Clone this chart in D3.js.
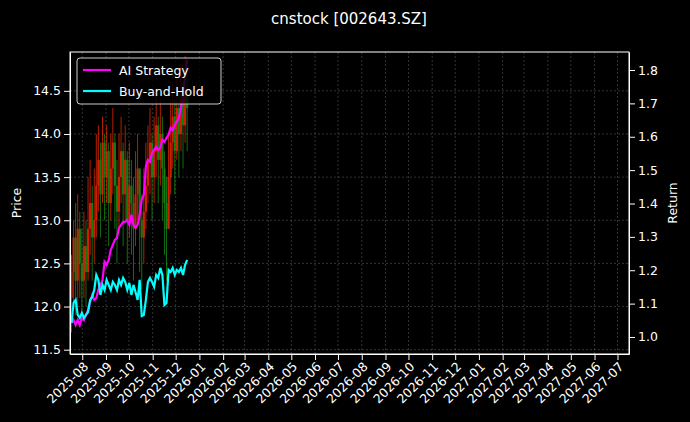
<!DOCTYPE html>
<html><head><meta charset="utf-8">
<script src="https://cdn.jsdelivr.net/npm/d3@7"></script>
<style>body{margin:0;background:#000}svg{display:block;font-family:"DejaVu Sans",sans-serif}</style>
</head><body><svg id="c" width="690" height="422"></svg>
<script>
const title = "cnstock [002643.SZ]";
const xTickLabels = ["2025-08","2025-09","2025-10","2025-11","2025-12","2026-01","2026-02","2026-03","2026-04","2026-05","2026-06","2026-07","2026-08","2026-09","2026-10","2026-11","2026-12","2027-01","2027-02","2027-03","2027-04","2027-05","2027-06","2027-07"];
const priceTicks = [11.5,12.0,12.5,13.0,13.5,14.0,14.5];
const returnTicks = [1.0,1.1,1.2,1.3,1.4,1.5,1.6,1.7,1.8];
const opens  = [12.1,12.4,12.8,12.3,12.9,12.5,12.3,12.7,12.4,12.9,13.2,12.8,13.0,13.4,13.7,13.3,13.9,13.5,13.8,13.2,13.6,13.9,13.4,13.1,13.5,13.8,13.3,13.7,13.0,13.4,13.2,12.9,13.3,13.6,13.0,12.8,13.1,13.4,13.7,13.9,13.5,13.8,14.1,13.7,14.0,13.6,13.2,12.9,13.5,13.9,14.2,13.8,14.3,14.0,14.4,14.1,14.5];
const closes = [12.4,12.8,12.3,12.9,12.5,12.3,12.7,12.4,12.9,13.2,12.8,13.0,13.4,13.7,13.3,13.9,13.5,13.8,13.2,13.6,13.9,13.4,13.1,13.5,13.8,13.3,13.7,13.0,13.4,13.2,12.9,13.3,13.6,13.0,12.8,13.1,13.4,13.7,13.9,13.5,13.8,14.1,13.7,14.0,13.6,13.2,12.9,13.5,13.9,14.2,13.8,14.3,14.0,14.4,14.1,14.5,14.3];
const highs  = [12.6,13.0,13.2,13.3,13.1,12.9,13.1,13.0,13.5,13.7,13.4,13.6,14.0,14.1,13.9,14.2,14.0,14.1,13.9,14.0,14.3,14.0,13.7,14.0,14.2,13.9,14.1,13.8,13.9,13.7,13.5,13.8,14.0,13.6,13.3,13.6,13.9,14.1,14.3,14.0,14.2,14.5,14.2,14.4,14.2,13.8,13.5,14.0,14.4,14.6,14.4,14.7,14.5,14.8,14.6,14.9,14.7];
const lows   = [11.7,12.0,11.9,12.0,12.1,11.9,12.1,12.0,12.3,12.6,12.3,12.5,12.8,13.1,12.8,13.2,13.0,13.2,12.7,13.0,13.3,12.9,12.5,12.9,13.2,12.7,13.0,12.5,12.8,12.6,12.3,12.7,13.0,12.4,12.2,12.5,12.9,13.2,13.3,13.0,13.2,13.5,13.2,13.4,13.0,12.6,12.3,12.9,13.3,13.6,13.3,13.7,13.5,13.8,13.6,13.9,13.8];
const aiStrategy = [1.042,1.051,1.036,1.051,1.036,1.057,1.051,1.066,1.081,1.105,1.126,1.111,1.117,1.141,1.156,1.171,1.225,1.216,1.231,1.261,1.276,1.291,1.297,1.327,1.336,1.345,1.345,1.351,1.336,1.366,1.336,1.327,1.336,1.366,1.411,1.426,1.510,1.531,1.525,1.552,1.561,1.570,1.561,1.567,1.591,1.585,1.597,1.606,1.627,1.621,1.636,1.645,1.657,1.687,1.726,1.786,1.831];
const buyHold = [1.042,1.102,1.111,1.066,1.057,1.072,1.057,1.066,1.075,1.111,1.120,1.141,1.186,1.171,1.126,1.156,1.141,1.171,1.156,1.141,1.165,1.156,1.141,1.171,1.156,1.177,1.165,1.141,1.162,1.126,1.156,1.135,1.111,1.171,1.063,1.066,1.111,1.165,1.177,1.165,1.150,1.186,1.177,1.207,1.186,1.096,1.102,1.201,1.195,1.207,1.186,1.201,1.195,1.207,1.186,1.216,1.231];

// sample dates: roughly every 2.7 calendar days from 2025-07-18 to 2025-12-16
const dates = [];
{ const start = new Date(2025,6,18), end = new Date(2025,11,16);
  const span = (end - start);
  for (let i = 0; i < closes.length; i++) dates.push(new Date(+start + span * i / (closes.length - 1))); }

const svg = d3.select("#c");
const m = {l:70, r:629, t:52, b:354};
const x = d3.scaleTime().domain([new Date(2025,6,16), new Date(2027,6,16)]).range([m.l, m.r]);
const yP = d3.scaleLinear().domain([11.45, 14.95]).range([m.b, m.t]);
const yR = d3.scaleLinear().domain([0.949, 1.854]).range([m.b, m.t]);
const tickDates = xTickLabels.map(s => { const [a,b] = s.split("-"); return new Date(+a, +b-1, 1); });

svg.append("rect").attr("width",690).attr("height",422).attr("fill","#000");
svg.append("text").attr("x",349).attr("y",24).attr("text-anchor","middle").attr("fill","#fff").attr("font-size",15).text(title);

const g = svg.append("g").attr("stroke","#555").attr("stroke-width",0.6).attr("stroke-dasharray","2,2");
tickDates.forEach(d => g.append("line").attr("x1",x(d)).attr("x2",x(d)).attr("y1",m.t).attr("y2",m.b));
priceTicks.forEach(v => g.append("line").attr("x1",m.l).attr("x2",m.r).attr("y1",yP(v)).attr("y2",yP(v)));

const cg = svg.append("g").attr("opacity",0.8);
closes.forEach((c,i) => {
  const col = c >= opens[i] ? "#ff2a00" : "#1a9a1a";
  const xx = x(dates[i]);
  cg.append("line").attr("x1",xx).attr("x2",xx).attr("y1",yP(highs[i])).attr("y2",yP(lows[i])).attr("stroke",col).attr("stroke-width",0.9);
  cg.append("rect").attr("x",xx-1.1).attr("width",2.2).attr("y",yP(Math.max(c,opens[i]))).attr("height",Math.max(1,Math.abs(yP(c)-yP(opens[i])))).attr("fill",col);
});

svg.append("clipPath").attr("id","pc").append("rect").attr("x",m.l).attr("y",m.t).attr("width",m.r-m.l).attr("height",m.b-m.t);
const lineR = d3.line().x((d,i)=>x(dates[i])).y(d=>yR(d));
svg.append("path").datum(aiStrategy).attr("d",lineR).attr("fill","none").attr("stroke","#ff00ff").attr("stroke-width",2.2).attr("clip-path","url(#pc)");
svg.append("path").datum(buyHold).attr("d",lineR).attr("fill","none").attr("stroke","#00ffff").attr("stroke-width",2.2).attr("clip-path","url(#pc)");

const ax = svg.append("g").attr("transform",`translate(0,${m.b})`).call(d3.axisBottom(x).tickValues(tickDates).tickFormat((d,i)=>xTickLabels[i]).tickSizeOuter(0));
ax.selectAll("text").attr("transform","rotate(-45)").attr("text-anchor","end").attr("dx","-0.4em").attr("dy","0.4em");
const ay = svg.append("g").attr("transform",`translate(${m.l},0)`).call(d3.axisLeft(yP).tickValues(priceTicks).tickFormat(d3.format(".1f")).tickSizeOuter(0));
const ar = svg.append("g").attr("transform",`translate(${m.r},0)`).call(d3.axisRight(yR).tickValues(returnTicks).tickFormat(d3.format(".1f")).tickSizeOuter(0));
[ax,ay,ar].forEach(a => { a.selectAll("path,line").attr("stroke","#fff"); a.selectAll("text").attr("fill","#fff").attr("font-size",12.5).attr("font-family","DejaVu Sans"); });
svg.append("rect").attr("x",m.l).attr("y",m.t).attr("width",m.r-m.l).attr("height",m.b-m.t).attr("fill","none").attr("stroke","#fff").attr("stroke-width",1);

svg.append("text").attr("transform","translate(21,203) rotate(-90)").attr("text-anchor","middle").attr("fill","#fff").attr("font-size",12.5).text("Price");
svg.append("text").attr("transform","translate(677,203) rotate(-90)").attr("text-anchor","middle").attr("fill","#fff").attr("font-size",12.5).text("Return");

const lg = svg.append("g");
lg.append("rect").attr("x",77).attr("y",58).attr("width",144).attr("height",46).attr("rx",3).attr("fill","#000").attr("fill-opacity",0.8).attr("stroke","#ccc");
[["AI Strategy","#ff00ff"],["Buy-and-Hold","#00ffff"]].forEach((e,i) => {
  const yy = 70 + i*21;
  lg.append("line").attr("x1",83).attr("x2",111).attr("y1",yy).attr("y2",yy).attr("stroke",e[1]).attr("stroke-width",2.2);
  lg.append("text").attr("x",119).attr("y",yy+4.5).attr("fill","#fff").attr("font-size",12.5).text(e[0]);
});
</script></body></html>
